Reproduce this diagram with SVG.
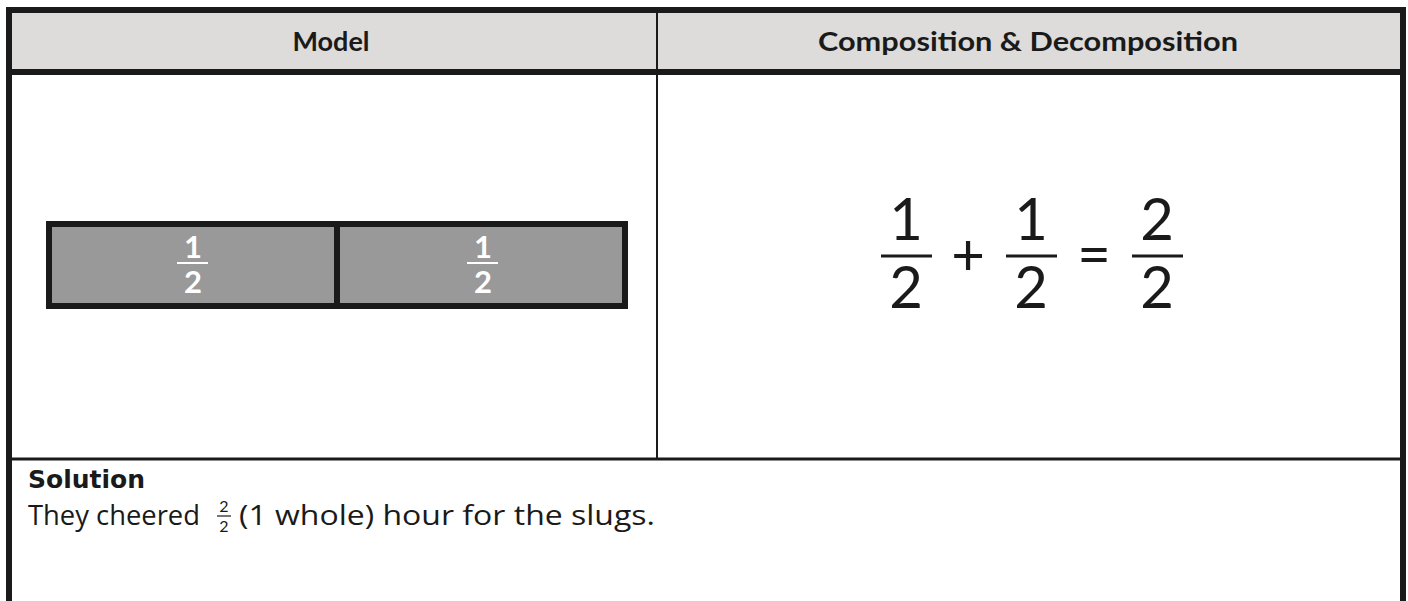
<svg xmlns="http://www.w3.org/2000/svg" width="1408" height="601" viewBox="0 0 1408 601">
<style>
.hdr{font-family:Lato,"Liberation Sans",sans-serif;font-weight:bold;font-size:27px;fill:#1a1a1a;text-anchor:middle}
.big{font-family:Lato,"Liberation Sans",sans-serif;font-size:58px;fill:#1a1a1a;text-anchor:middle}
.barf{font-family:Lato,"Liberation Sans",sans-serif;font-weight:bold;font-size:31px;fill:#ffffff;text-anchor:middle}
.body{font-family:"Open Sans","Liberation Sans",sans-serif;font-size:27px;fill:#1a1a1a}
.sol{font-family:"DejaVu Sans","Liberation Sans",sans-serif;font-weight:bold;font-size:25px;fill:#1a1a1a}
.small{font-family:Lato,"Liberation Sans",sans-serif;font-size:16px;fill:#1a1a1a;text-anchor:middle}
</style>
<rect width="1408" height="601" fill="#ffffff"/>
<g id="table">
<rect x="9" y="10" width="1394" height="62" fill="#dddcdb"/>
<path d="M9 601 V10 H1403 V601" fill="none" stroke="#1a1a1a" stroke-width="6"/>
<line x1="6" y1="72" x2="1406" y2="72" stroke="#1a1a1a" stroke-width="6"/>
<line x1="657" y1="13" x2="657" y2="459" stroke="#1a1a1a" stroke-width="2"/>
<line x1="12" y1="459" x2="1400" y2="459" stroke="#1a1a1a" stroke-width="3"/>
</g>
<g id="header-model"><text class="hdr" x="331" y="51">Model</text></g>
<g id="header-comp"><text class="hdr" x="1028" y="51" textLength="420" lengthAdjust="spacingAndGlyphs">Composition &amp; Decomposition</text></g>
<g id="bar">
<rect x="49" y="224" width="288" height="82" fill="#999999" stroke="#1a1a1a" stroke-width="6"/>
<rect x="337" y="224" width="288" height="82" fill="#999999" stroke="#1a1a1a" stroke-width="6"/>
<text class="barf" x="193" y="258">1</text>
<line x1="177" y1="263" x2="208" y2="263" stroke="#ffffff" stroke-width="2"/>
<text class="barf" x="193" y="293">2</text>
<text class="barf" x="483" y="258">1</text>
<line x1="467" y1="263" x2="498" y2="263" stroke="#ffffff" stroke-width="2"/>
<text class="barf" x="483" y="293">2</text>
</g>
<g id="equation">
<text class="big" x="906" y="240">1</text>
<line x1="881" y1="256" x2="932" y2="256" stroke="#1a1a1a" stroke-width="3"/>
<text class="big" x="906" y="308">2</text>
<text class="big" x="968" y="275">+</text>
<text class="big" x="1031" y="240">1</text>
<line x1="1006" y1="256" x2="1057" y2="256" stroke="#1a1a1a" stroke-width="3"/>
<text class="big" x="1031" y="308">2</text>
<text class="big" x="1094" y="275">=</text>
<text class="big" x="1157" y="240">2</text>
<line x1="1132" y1="256" x2="1183" y2="256" stroke="#1a1a1a" stroke-width="3"/>
<text class="big" x="1157" y="308">2</text>
</g>
<g id="solution">
<text class="sol" x="28" y="488">Solution</text>
<text class="body" x="28" y="525" textLength="172" lengthAdjust="spacingAndGlyphs">They cheered</text>
<text class="small" x="224" y="512">2</text>
<line x1="217" y1="516" x2="231" y2="516" stroke="#1a1a1a" stroke-width="1.2"/>
<text class="small" x="224" y="532">2</text>
<text class="body" x="239" y="525" textLength="416" lengthAdjust="spacingAndGlyphs">(1 whole) hour for the slugs.</text>
</g>
</svg>
